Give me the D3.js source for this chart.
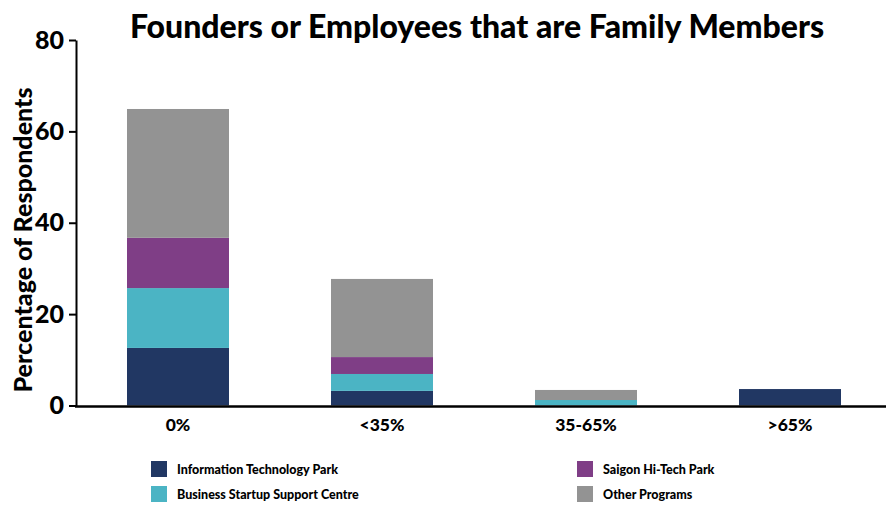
<!DOCTYPE html>
<meta charset="utf-8">
<head>
  <title>Founders or Employees that are Family Members</title>
</head>
<style>
body { margin: 0; background: #fff; }
text { font-family: Lato, "Open Sans", sans-serif; font-weight: 900; fill: #000; }
</style>
<body>
<svg width="886" height="514"></svg>
<script src="https://cdnjs.cloudflare.com/ajax/libs/d3/7.8.5/d3.min.js"></script>
<script>
var categories = ['0%', '<35%', '35-65%', '>65%'];
var seriesNames = ['Information Technology Park', 'Business Startup Support Centre', 'Saigon Hi-Tech Park', 'Other Programs'];
var itPark = [12.6, 3.2, 0, 3.6];
var startupCentre = [13.1, 3.7, 1.2, 0];
var saigonPark = [11.0, 3.7, 0, 0];
var otherPrograms = [28.2, 17.1, 2.2, 0];
var yTicks = [0, 20, 40, 60, 80];
var colors = ['#213763', '#4bb4c4', '#7f3e86', '#939393'];

var rows = categories.map(function(c, i) {
  return { cat: c, s0: itPark[i], s1: startupCentre[i], s2: saigonPark[i], s3: otherPrograms[i] };
});
var stack = d3.stack().keys(['s0', 's1', 's2', 's3'])(rows);

var svg = d3.select('svg');

var x = d3.scaleBand()
  .domain(categories)
  .range([76, 892])
  .paddingInner(0.5)
  .paddingOuter(0.25);

var y = d3.scaleLinear()
  .domain([0, 80])
  .range([405.5, 40]);

// bars
svg.append('g')
  .selectAll('g')
  .data(stack)
  .enter()
  .append('g')
  .attr('fill', function(d, i) { return colors[i]; })
  .selectAll('rect')
  .data(function(d) { return d; })
  .enter()
  .append('rect')
  .attr('x', function(d) { return x(d.data.cat); })
  .attr('width', x.bandwidth())
  .attr('y', function(d) { return y(d[1]); })
  .attr('height', function(d) { return y(d[0]) - y(d[1]); });

// y axis
var yAxis = svg.append('g')
  .attr('transform', 'translate(76,0)')
  .call(d3.axisLeft(y).tickValues(yTicks).tickSize(7).tickSizeOuter(0).tickPadding(5));
yAxis.select('.domain').attr('stroke-width', 2);
yAxis.selectAll('.tick line').attr('stroke-width', 2);
yAxis.selectAll('.tick text')
  .style('font-size', '25px')
  .style('font-family', 'Lato, sans-serif')
  .style('font-weight', '900');

// x axis
svg.append('line')
  .attr('x1', 75).attr('x2', 886)
  .attr('y1', 406.5).attr('y2', 406.5)
  .attr('stroke', '#000').attr('stroke-width', 2.5);

svg.append('g')
  .selectAll('text')
  .data(categories)
  .enter()
  .append('text')
  .attr('x', function(d) { return x(d) + x.bandwidth() / 2; })
  .attr('y', 431)
  .attr('text-anchor', 'middle')
  .style('font-size', '17.5px')
  .text(function(d) { return d; });

// title
svg.append('text')
  .attr('x', 477)
  .attr('y', 38)
  .attr('text-anchor', 'middle')
  .style('font-size', '32px')
  .text('Founders or Employees that are Family Members');

// y label
svg.append('text')
  .attr('transform', 'translate(32,240) rotate(-90)')
  .attr('text-anchor', 'middle')
  .style('font-size', '25px')
  .text('Percentage of Respondents');

// legend
var legendPos = [[151, 469], [151, 494], [577, 469], [577, 494]];
var legend = svg.append('g')
  .selectAll('g')
  .data(seriesNames)
  .enter()
  .append('g')
  .attr('transform', function(d, i) { return 'translate(' + legendPos[i] + ')'; });

legend.append('rect')
  .attr('y', -8)
  .attr('width', 16)
  .attr('height', 16)
  .attr('fill', function(d, i) { return colors[i]; });

legend.append('text')
  .attr('x', 26)
  .attr('y', 4.5)
  .style('font-size', '12.5px')
  .text(function(d) { return d; });
</script>
</body>
</html>
